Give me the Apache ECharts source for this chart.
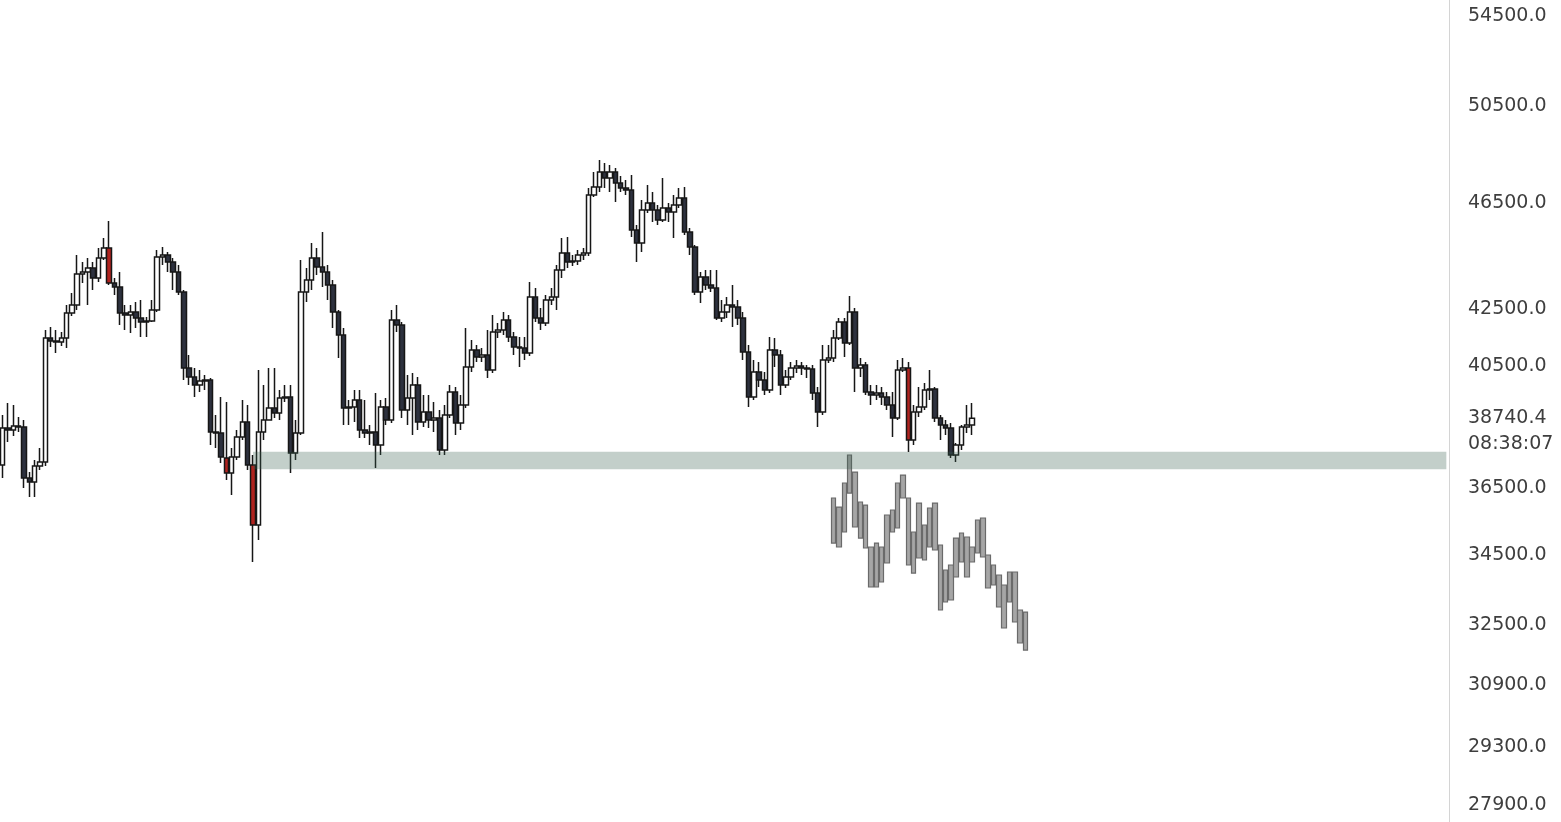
<!DOCTYPE html>
<html><head><meta charset="utf-8">
<script src="https://cdn.jsdelivr.net/npm/echarts@6.0.0/dist/echarts.min.js"></script>
<style>html,body{margin:0;padding:0;background:#fff;}#c{width:1561px;height:822px;}</style>
</head><body><div id="c"></div>
<script>
// [open, close, low, high]
const candlesA = [
[37231,38419,36822,38845],[38419,38354,37965,39243],[38354,38485,38159,39176],[38485,38452,38289,38779],
[38452,36822,36511,38680],[36822,36698,36234,37010],[36698,37200,36234,37389],[37200,37326,37073,37772],
[37326,41469,37200,41751],[41469,41363,41153,41858],[41363,41328,40944,41751],[41328,41469,41188,41680],
[41469,42358,41118,42646],[42358,42646,42250,43083],[42646,43783,42465,44495],[43783,43858,43450,44231],
[43858,44006,42646,44382],[44006,43635,43192,44231],[43635,44382,43487,44760],[44382,44760,44306,45141],
[44760,43450,43376,45797],[43450,43303,43010,43635],[43303,42358,41929,43858],[42358,42286,41751,42646],
[42286,42394,41645,42646],[42394,42178,41822,42755],[42178,42036,41504,42827],[42036,42071,41504,42214],
[42071,42465,42036,42827],[42465,44420,42394,44684],[44420,44495,44119,44798],[44495,44231,43858,44608],
[44231,43858,43192,44382],[43858,43119,43010,44119],[43119,40426,40016,43192],[40426,40119,39847,40875],
[40119,39847,39443,40426],[39847,39982,39611,40357],[39982,40016,39678,40187],[40016,38289,37869,40084],
[38289,38257,37772,38845],[38257,37485,37294,39443],[37453,36979,36760,39276],[36979,37485,36295,37772],
[37485,38127,37389,38354],[38127,38615,38029,39343]
];
const candlesB = [
[38615,37231,37073,39176],[37231,35383,34289,37549],[35383,38289,34935,40357],[38289,38680,38029,39847],
[38680,39077,38680,40426],[39077,38911,38746,40426],[38911,39410,38680,39678],[39410,39443,39276,39847],
[39443,37612,36979,39847],[37612,38257,37389,38680],[38257,43119,38192,44306],[43119,43560,42755,44006],
[43560,44382,43192,44951],[44382,44044,43746,44760],[44044,43858,43303,45372],[43858,43376,42827,44119],
[43376,42394,41822,43560],[42394,41574,40771,42465],[41574,39077,38517,41822],[39077,39110,38517,39343],
[39110,39343,38615,39678],[39343,38354,38094,39678],[38354,38257,38094,39343],[38257,38289,37869,38517],
[38289,37869,37136,39577],[37869,39110,37549,39343],[39110,38680,38517,39410],[38680,42107,38582,42465],
[42107,41929,41680,42646],[41929,39010,38746,42036],[39010,39410,38517,40187],[39410,39847,38192,40255],
[39847,38615,38354,40119],[38615,38944,38452,39510],[38944,38680,38419,39510],[38680,38746,38289,39276],
[38746,37708,37549,39010],[37708,38845,37549,39176],[38845,39611,38746,39847],[39611,38582,38192,39779],
[38582,39176,38354,39510],[39176,40460,39077,41822],[40460,41048,40289,41398],[41048,40805,40632,41223],
[40805,40875,40632,41118],[40875,40357,40084,41751]
];
const candlesC = [
[40357,41680,40255,42286],[41680,41751,41469,42000],[41751,42107,41574,42394],[42107,41504,41328,42286],
[41504,41153,40875,41680],[41153,41118,40460,41504],[41118,40944,40701,41504],[40944,42937,40840,43487],
[42937,42178,42036,43266],[42178,42000,41751,42538],[42000,42827,41893,43010],[42827,42937,42646,43266],
[42937,43932,42465,44119],[43932,44571,43635,45141],[44571,44231,44006,45180],[44231,44269,44081,44495],
[44269,44495,44119,44684],[44495,44571,44306,44760],[44571,46820,44458,47099],[46820,47139,46740,47743],
[47139,47743,46938,48231],[47743,47500,47099,48109],[47500,47743,46938,48027],[47743,47299,46542,47905],
[47299,47099,46938,47581],[47099,47018,46820,47419],[47018,45449,45180,47621],[45449,44951,44231,45642],
[44951,46227,44608,46621],[46227,46503,46110,47219],[46503,46227,45759,46938],[46227,45836,45642,46424],
[45836,46306,45759,47500],[46306,46149,45759,46503],[46149,46424,45141,46820],[46424,46700,46306,47099],
[46700,45372,45257,47139],[45372,44798,44495,45526],[44798,43119,43010,44874],[43119,43672,42718,43858],
[43672,43376,43192,43932],[43376,43266,43119,43932],[43266,42178,42107,43932],[42178,42394,42036,42827],
[42394,42646,42178,42937],[42646,42574,41858,43376]
];
const candlesD = [
[42574,42178,41929,42827],[42178,40979,40701,42394],[40979,39443,39110,41223],[39443,40289,39343,40701],
[40289,40016,39779,40632],[40016,39678,39510,40289],[39678,41048,39577,41504],[41048,40875,40460,41469],
[40875,39847,39510,41048],[39847,40119,39745,40357],[40119,40426,40016,40632],[40426,40495,40255,40701],
[40495,40426,40187,40632],[40426,40392,40084,40529],[40392,39577,39343,40529],[39577,38944,38452,39779],
[38944,40701,38845,41223],[40701,40771,40598,41223],[40771,41469,40632,41751],[41469,42036,41398,42178],
[42036,41293,40805,42178],[41293,42394,41223,42973],[42394,40426,39611,42538],[40426,40529,40119,40771],
[40529,39611,39510,40632],[39611,39510,39176,39847],[39510,39577,39343,39847],[39577,39443,39176,39779],
[39443,39176,39010,39611],[39176,38746,38127,39611],[38746,40357,38680,40701],[40357,40426,40289,40771],
[40426,38029,37644,40632],[38029,38944,37869,39176],[38944,39110,38779,39779],[39110,39678,39010,39914],
[39678,39712,39343,40357],[39712,38746,38615,39779],[38746,38517,38029,38845],[38517,38419,38192,38680],
[38419,37549,37453,38582],[37549,37869,37326,37933],[37869,38452,37708,38517],[38452,38517,38257,39176],
[38517,38740.4,38192,39243]
];
// projected (ghost) candles
const ghostCandles = [
[36203,34846,34846,36203],[35927,34728,34728,35927],[36667,35173,35173,36667],[37549,36356,36356,37549],
[37010,35323,35323,37010],[36080,34994,34994,36080],[35988,34699,34699,35988],[34728,33569,33569,34728],
[34846,33569,33569,34846],[34728,33712,33712,34728],[35685,34260,34260,35685],[35836,35173,35173,35836],
[36667,35293,35293,36667],[36916,36203,36203,36916],[36203,34202,34202,36203],[35173,33970,33970,35173],
[36049,34406,34406,36049],[35383,34347,34347,35383],[35897,34728,34728,35897],[36049,34640,34640,36049],
[34787,32920,32920,34787],[34057,33145,33145,34057],[34202,33201,33201,34202],[34994,33855,33855,34994],
[35143,34289,34289,35143],[35024,33855,33855,35024],[34728,34289,34289,34728],[35533,34552,34552,35533],
[35594,34435,34435,35594],[34494,33541,33541,34494],[34202,33626,33626,34202],[33913,33004,33004,33913],
[33626,32421,32421,33626],[33999,33145,33145,33999],[33999,32587,32587,33999],[32920,32011,32011,32920],
[32864,31821,31821,32864]
];
const tickPrices = [54500, 50500, 46500, 42500, 40500, 36500, 34500, 32500, 30900, 29300, 27900];
const axisPriceRange = [27500, 55245];
const zonePrices = [37100, 37650];
const zoneStartIndex = 47;
const slotCount = 272;
const ghostStartIndex = 156;
const redCandleIndex = [20, 42, 47, 170];
const countdownText = '08:38:07';

const ln = Math.log;
const RED = '#b0231f';
const EDGE = '#161616';
const realCandles = [].concat(candlesA, candlesB, candlesC, candlesD);
const lastPrice = realCandles[realCandles.length - 1][1];
const categories = Array.from({length: slotCount}, (_, i) => String(i));
const realData = realCandles.map((c, i) => {
  const v = c.map(ln);
  if (redCandleIndex.indexOf(i) >= 0) {
    return {value: v, itemStyle: {color: RED, color0: RED, borderColor: EDGE, borderColor0: EDGE}};
  }
  return v;
});
const ghostData = ghostCandles.map((c, k) => [ghostStartIndex + k].concat(c.map(ln)));

const FONT = 'DejaVu Sans';
const chart = echarts.init(document.getElementById('c'));
chart.setOption({
  animation: false,
  backgroundColor: '#ffffff',
  grid: {left: 0, right: 112, top: 0, bottom: 0},
  xAxis: {
    type: 'category', data: categories, boundaryGap: true,
    axisLine: {show: false}, axisTick: {show: false}, axisLabel: {show: false}, splitLine: {show: false}
  },
  yAxis: {
    type: 'value', position: 'right', scale: true,
    min: ln(axisPriceRange[0]), max: ln(axisPriceRange[1]),
    axisLine: {show: true, lineStyle: {color: '#d4d4d4', width: 1}},
    axisTick: {show: false}, splitLine: {show: false},
    axisLabel: {
      customValues: tickPrices.map(ln),
      formatter: v => Math.exp(v).toFixed(1),
      margin: 19, fontSize: 19, color: '#3e3e3e', fontFamily: FONT, align: 'left'
    }
  },
  series: [
    {
      type: 'candlestick', name: 'ghost', data: ghostData,
      encode: {x: 0, y: [1, 2, 3, 4]},
      barWidth: 5, z: 2,
      itemStyle: {color: '#a6a6a6', color0: '#a6a6a6', borderColor: '#6a6a6a', borderColor0: '#6a6a6a', borderWidth: 1.2},
      markArea: {
        silent: true, z: 10,
        itemStyle: {color: 'rgba(55,95,78,0.30)'},
        data: [[{xAxis: categories[zoneStartIndex], yAxis: ln(zonePrices[1])},
                {xAxis: categories[slotCount - 1], yAxis: ln(zonePrices[0])}]]
      }
    },
    {
      type: 'candlestick', name: 'price', data: realData,
      barWidth: 5, z: 3,
      itemStyle: {color: '#ffffff', color0: '#2d313e', borderColor: EDGE, borderColor0: EDGE, borderWidth: 1.5}
    }
  ]
});
const yc = chart.convertToPixel({yAxisIndex: 0}, ln(lastPrice));
chart.setOption({
  graphic: [{
    type: 'group', z: 100,
    children: [
      {type: 'rect', shape: {x: 1449, y: yc - 16, width: 112, height: 68}, style: {fill: '#ffffff'}},
      {type: 'text', x: 1468, y: yc, style: {text: lastPrice.toFixed(1), font: '19px "DejaVu Sans"', fill: '#3e3e3e', verticalAlign: 'middle', align: 'left'}},
      {type: 'text', x: 1468, y: yc + 26, style: {text: countdownText, font: '19px "DejaVu Sans"', fill: '#3e3e3e', verticalAlign: 'middle', align: 'left'}}
    ]
  }]
});
</script></body></html>
